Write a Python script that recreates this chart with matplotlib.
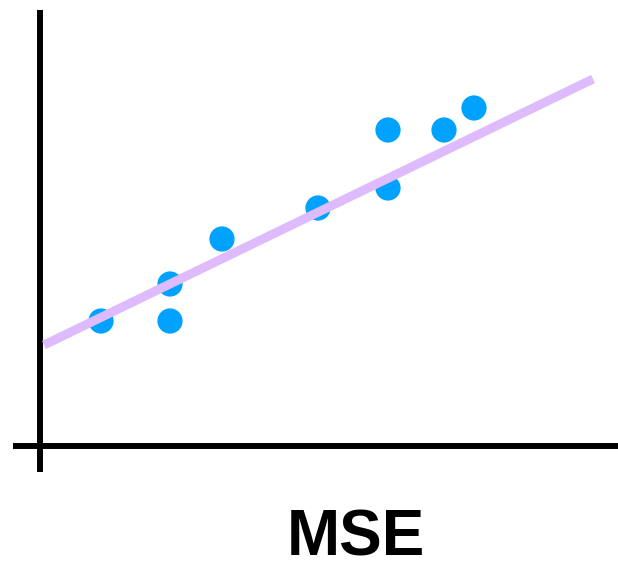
import matplotlib
matplotlib.use('Agg')
import matplotlib.pyplot as plt

# Observations
x_obs = [1.23, 2.61, 2.61, 3.65, 5.57, 6.97, 6.97, 8.09, 8.69]
y_obs = [2.50, 3.24, 2.50, 4.14, 4.76, 6.32, 5.16, 6.32, 6.76]

# Fitted line end points
fit_x = [0.09, 11.07]
fit_y = [2.02, 7.34]

label = "MSE"


def main():
    fig = plt.figure(figsize=(6.18, 5.62), dpi=100, facecolor='white')
    ax = fig.add_axes([0, 0, 1, 1])
    ax.set_xlim(-0.79, 11.57)
    ax.set_ylim(-2.32, 8.92)
    ax.axis('off')

    # Axis lines
    ax.plot([0, 0], [-0.52, 8.72], color='black', linewidth=4.3, solid_capstyle='butt')
    ax.plot([-0.53, 11.7], [0, 0], color='black', linewidth=4.3, solid_capstyle='butt')

    ax.scatter(x_obs, y_obs, s=330, color='#00A2FF', edgecolors='none', zorder=3)
    ax.plot(fit_x, fit_y, color='#DDBBFC', linewidth=6.5, solid_capstyle='butt', zorder=4)

    ax.text(6.32, -2.18, label, ha='center', va='baseline', fontsize=46,
            fontweight='bold', family='Liberation Sans')

    fig.savefig("out.png", dpi=100, facecolor='white')


if __name__ == "__main__":
    main()
